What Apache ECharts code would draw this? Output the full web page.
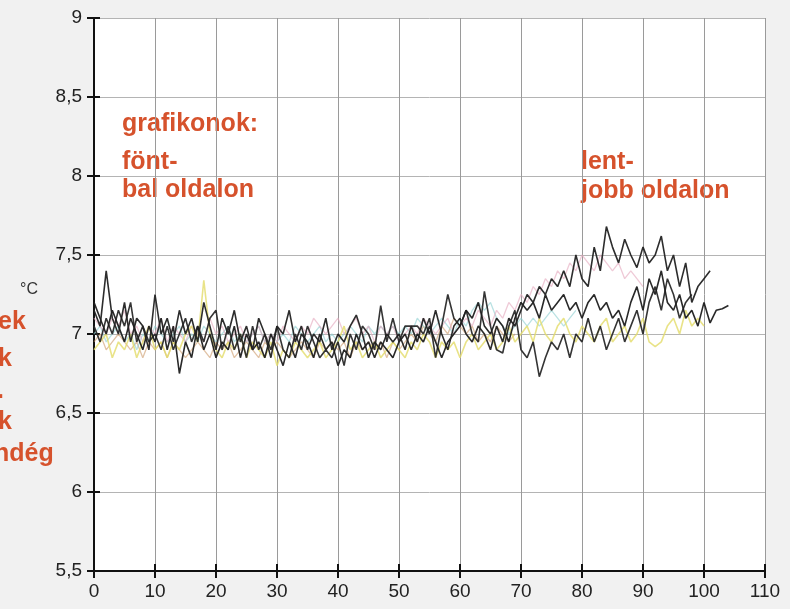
<!DOCTYPE html>
<html>
<head>
<meta charset="utf-8">
<script src="https://cdn.jsdelivr.net/npm/echarts@6/dist/echarts.min.js"></script>
<style>
  html, body { margin: 0; padding: 0; background: #f1f1f1; }
  #chart { width: 790px; height: 609px; }
</style>
</head>
<body>
<div id="chart"></div>
<script>
// Temperature series (°C), one value per day starting at day 0
const blackA = [7.15,7.05,7.40,7.10,7.00,7.20,6.95,7.10,7.05,6.90,7.25,7.00,7.10,6.95,7.15,7.00,7.10,6.95,7.20,7.05,
  6.90,7.10,7.00,7.15,6.95,7.05,6.90,7.10,7.00,6.85,7.05,7.00,7.15,6.95,7.05,6.90,7.00,6.95,7.10,6.90,
  7.00,6.95,7.05,7.12,7.00,6.85,6.95,6.90,7.00,6.95,7.00,6.90,7.05,6.95,7.10,7.00,7.15,7.00,6.90,7.05,
  7.10,7.00,6.95,7.05,7.00,6.90,7.05,6.95,7.10,7.05,7.15,7.25,7.20,7.30,7.25,7.35,7.30,7.40,7.30,7.50,
  7.35,7.30,7.55,7.40,7.68,7.55,7.45,7.60,7.50,7.42,7.55,7.45,7.50,7.62,7.40,7.50,7.30,7.45,7.20,7.30,
  7.35,7.40];
const blackB = [7.20,7.10,7.00,7.15,7.05,6.95,7.10,7.00,6.90,7.05,6.95,7.10,6.90,7.05,6.75,6.95,6.85,7.05,6.90,7.00,
  6.85,6.95,6.90,7.05,6.85,7.00,6.90,6.95,6.85,7.00,6.90,6.80,6.95,6.85,7.00,6.95,6.85,7.00,6.90,6.95,
  6.80,6.90,6.85,7.00,6.90,6.95,6.85,6.95,6.90,6.85,6.95,7.00,6.90,7.00,6.95,7.05,6.95,6.85,6.95,7.00,
  7.05,7.15,7.10,7.20,7.05,7.00,7.10,7.05,6.95,7.10,7.20,7.15,7.20,7.10,7.25,7.15,7.20,7.25,7.15,7.20,
  7.10,7.20,7.25,7.15,7.20,7.10,7.15,7.05,7.20,7.30,7.15,7.35,7.25,7.40,7.20,7.15,7.25,7.10,7.15,7.05,
  7.20,7.07,7.15,7.16,7.18];
const blackC = [7.05,6.95,7.10,7.00,7.15,7.05,7.20,6.95,7.05,6.95,7.00,6.90,7.05,6.90,7.00,7.10,6.95,7.05,6.95,7.10,
  7.15,6.90,7.05,6.90,7.00,6.85,7.05,6.90,7.00,6.90,7.05,6.90,6.85,7.00,6.90,7.05,6.95,6.85,6.90,6.85,
  6.95,6.80,7.00,6.90,7.05,7.00,6.90,7.18,6.95,7.10,6.95,7.05,7.05,7.05,7.00,7.10,6.85,7.05,7.25,7.10,
  7.05,7.15,7.00,6.95,7.27,7.05,6.90,6.88,7.05,7.15,6.90,6.85,6.95,6.73,6.85,6.95,6.90,7.00,6.85,7.00,
  6.95,7.10,6.95,7.05,6.90,7.00,7.10,6.95,7.05,7.15,7.00,7.20,7.30,7.15,7.35,7.25,7.10,7.20,7.25];
const yellowD = [6.90,6.95,7.00,6.85,6.95,6.90,7.00,6.85,6.95,7.05,6.90,6.95,6.85,6.95,6.90,7.00,7.05,6.95,7.34,7.00,
  6.90,6.85,6.95,6.90,7.00,6.85,6.95,6.90,6.85,6.95,6.80,6.90,6.85,6.95,6.90,6.85,6.90,6.95,6.85,6.90,
  6.95,7.05,6.90,6.95,6.85,6.90,6.95,6.85,6.90,6.95,6.90,6.85,6.95,6.90,7.00,6.95,6.85,6.95,6.90,6.95,
  6.85,6.95,7.00,6.90,6.95,7.00,6.90,6.95,7.05,6.95,7.00,7.05,6.95,7.10,7.00,6.95,7.05,7.10,7.00,6.95,
  7.05,7.00,6.95,7.05,7.10,6.95,7.00,7.05,6.95,7.00,7.10,6.95,6.92,6.95,7.05,7.10,7.00,7.15,7.05,7.10,
  7.05];
const pinkE = [7.10,7.05,7.00,7.10,7.05,7.15,7.00,7.05,6.95,7.05,7.00,7.10,6.95,7.05,7.00,6.95,7.05,7.00,6.95,7.10,
  7.00,7.05,6.95,7.00,7.05,6.95,7.00,7.05,6.95,7.00,6.95,7.05,7.00,6.95,7.05,7.00,7.10,7.05,7.00,7.05,
  7.10,7.00,7.05,7.10,7.00,7.05,6.95,7.05,7.00,7.05,6.95,7.00,7.05,7.00,7.10,7.05,7.00,7.05,7.10,7.00,
  7.05,7.10,7.05,7.15,7.10,7.05,7.15,7.10,7.20,7.15,7.25,7.20,7.30,7.25,7.35,7.30,7.40,7.35,7.45,7.40,
  7.50,7.45,7.40,7.50,7.45,7.40,7.45,7.35,7.40,7.35,7.30];
const cyanF = [7.00,7.05,6.95,7.00,7.05,6.95,7.00,6.90,7.00,6.95,7.05,7.00,6.95,7.00,7.05,6.95,7.00,6.95,7.05,7.00,
  6.95,7.00,7.05,6.95,7.00,6.95,7.00,7.05,6.95,7.00,6.95,7.00,6.95,7.05,7.00,6.95,7.00,7.05,6.95,7.00,
  6.95,7.00,7.05,7.00,6.95,7.05,7.00,7.05,7.00,7.05,7.00,7.05,7.00,7.10,7.05,7.00,7.05,7.10,7.05,7.00,
  7.10,7.05,7.15,7.20,7.15,7.20,7.10,7.05,7.00,7.05,7.10,7.05,7.10,7.05,7.10,7.15,7.10,7.05,7.10,7.15];
const orangeG = [6.95,7.00,6.90,6.95,7.00,6.95,6.90,6.95,6.85,6.95,6.90,6.95,6.85,6.95,6.90,6.85,6.90,6.95,6.90,6.85,
  6.95,6.90,6.95,6.85,6.90,6.95,6.90,6.85,6.95,6.90,6.95,6.90,6.85,6.90,6.95,6.90,6.85,6.95,6.90,6.95,
  6.90,6.95,6.85,6.95,6.90,6.95,6.90,6.95,6.85,6.95,6.90,6.95,7.00,6.95,7.05,7.00,6.95,7.05,7.00,7.10,
  7.05,7.00,7.05,6.95,7.00,6.95,7.05,7.00,6.95,7.00];

const xTicks = [0, 10, 20, 30, 40, 50, 60, 70, 80, 90, 100, 110];
const yTicks = [5.5, 6, 6.5, 7, 7.5, 8, 8.5, 9];

// Colour, width and opacity for each temperature trace
const traces = [
  { data: orangeG, color: '#c8925c', width: 1.3, opacity: 0.55 },
  { data: cyanF,   color: '#8ccfd0', width: 1.3, opacity: 0.6 },
  { data: pinkE,   color: '#e4a7bd', width: 1.3, opacity: 0.6 },
  { data: yellowD, color: '#e3dc6a', width: 1.6, opacity: 0.8 },
  { data: blackC,  color: '#2a2a2a', width: 1.6, opacity: 0.95 },
  { data: blackB,  color: '#1e1e1e', width: 1.6, opacity: 0.95 },
  { data: blackA,  color: '#222222', width: 1.6, opacity: 0.95 }
];

const GRID = { left: 94, right: 25, top: 18, bottom: 38 };
const W = 790, H = 609;

const commaFmt = v => String(v).replace('.', ',');
const labelFont = { fontFamily: 'Liberation Sans', fontSize: 19, color: '#222' };
const noteStyle = { fill: '#d6522c', fontFamily: 'Liberation Sans', fontWeight: 'bold', fontSize: 25 };
const note = (text, left, top) => ({ type: 'text', left, top, style: Object.assign({ text }, noteStyle) });

const xScale = { type: 'value', min: xTicks[0], max: xTicks[xTicks.length - 1], interval: 10 };
const yScale = { type: 'value', min: yTicks[0], max: yTicks[yTicks.length - 1], interval: 0.5 };
const tickStyle = { color: '#111', width: 2 };
const hiddenAxis = { type: 'value', show: false, min: 0, max: 1 };

// Grid 0 holds the data; grids 1 and 2 are zero-size strips lying on the bottom and left
// axis lines, whose inside ticks complete the ticks crossing the axes.
const chart = echarts.init(document.getElementById('chart'));
chart.setOption({
  backgroundColor: '#f1f1f1',
  animation: false,
  grid: [
    Object.assign({ show: true, backgroundColor: '#ffffff', borderWidth: 0 }, GRID),
    { left: GRID.left, right: GRID.right, top: H - GRID.bottom, height: 0 },
    { left: GRID.left, width: 0, top: GRID.top, bottom: GRID.bottom }
  ],
  xAxis: [Object.assign({
    gridIndex: 0, position: 'bottom',
    axisLine: { lineStyle: { color: '#111', width: 2 } },
    axisTick: { length: 7, lineStyle: tickStyle },
    axisLabel: Object.assign({ margin: 11 }, labelFont),
    splitLine: { show: true, lineStyle: { color: '#9a9a9a', width: 1 } }
  }, xScale), Object.assign({
    gridIndex: 1, position: 'bottom',
    axisLine: { show: false }, axisLabel: { show: false }, splitLine: { show: false },
    axisTick: { show: true, inside: true, length: 7, lineStyle: tickStyle }
  }, xScale), Object.assign({ gridIndex: 2 }, hiddenAxis)],
  yAxis: [Object.assign({
    gridIndex: 0, position: 'left',
    axisLine: { show: true, lineStyle: { color: '#111', width: 2 } },
    axisTick: { show: true, length: 7, lineStyle: tickStyle },
    axisLabel: Object.assign({ margin: 12, formatter: commaFmt }, labelFont),
    splitLine: { show: true, lineStyle: { color: '#b4b4b4', width: 1 } }
  }, yScale), Object.assign({ gridIndex: 1 }, hiddenAxis), Object.assign({
    gridIndex: 2, position: 'left',
    axisLine: { show: false }, axisLabel: { show: false }, splitLine: { show: false },
    axisTick: { show: true, inside: true, length: 6, lineStyle: tickStyle }
  }, yScale)],
  series: traces.map(t => ({
    type: 'line',
    xAxisIndex: 0, yAxisIndex: 0,
    showSymbol: false,
    data: t.data.map((v, i) => [i, v]),
    lineStyle: { color: t.color, width: t.width, opacity: t.opacity },
    z: 3
  })),
  graphic: [
    { type: 'text', left: 20, top: 282, style: { text: '°C', fill: '#333', fontFamily: 'Liberation Sans', fontSize: 16 } },
    note('grafikonok:', 122, 112),
    note('fönt-', 122, 150),
    note('bal oldalon', 122, 178),
    note('lent-', 581, 150),
    note('jobb oldalon', 581, 179),
    note('ek', -2, 310),
    note('k', -2, 347),
    note('.', -3, 379),
    note('k', -2, 410),
    note('ndég', -6, 442)
  ]
});
</script>
</body>
</html>
